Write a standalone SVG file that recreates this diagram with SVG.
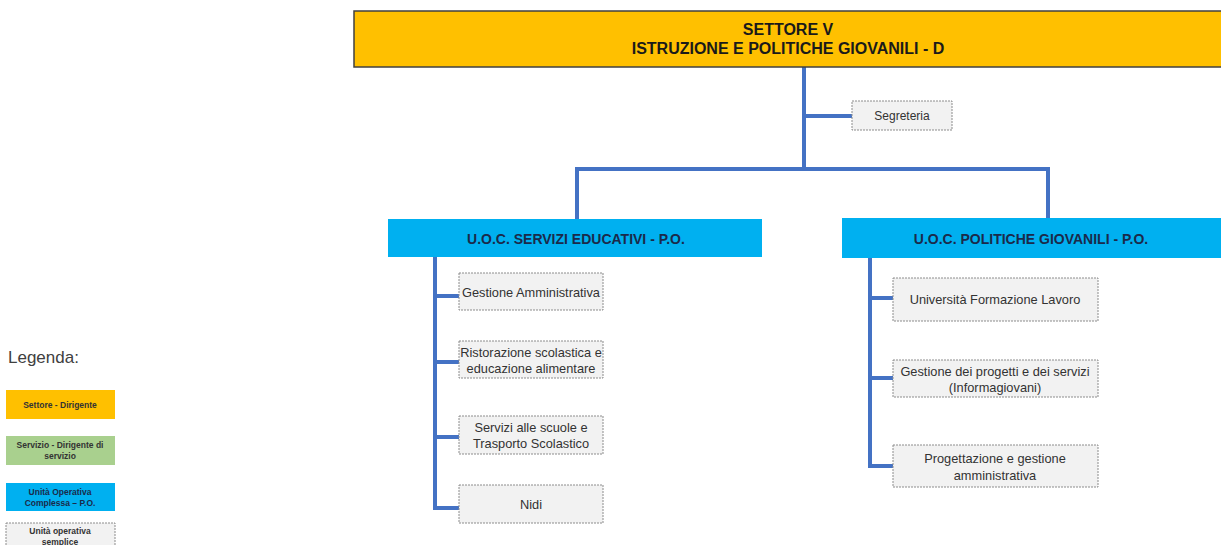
<svg xmlns="http://www.w3.org/2000/svg" width="1221" height="545" viewBox="0 0 1221 545">
<style>
  text { font-family: "Liberation Sans", Arial, sans-serif; text-anchor: middle; dominant-baseline: central; }
  .top { fill: #FFC000; stroke: #404040; stroke-width: 1.5; }
  .uoc { fill: #00B0F0; }
  .box { fill: #F2F2F2; stroke: #8C8C8C; stroke-width: 1; stroke-dasharray: 2 1; }
  .t-top { font-size: 16px; font-weight: bold; fill: #1A1A1A; }
  .t-uoc { font-size: 14px; font-weight: bold; fill: #1B2A4A; }
  .t-box { font-size: 12.8px; fill: #333333; }
  .t-small { font-size: 12px; fill: #333333; }
  .conn { fill: none; stroke: #4472C4; stroke-width: 4; stroke-linejoin: miter; }
  .lg { font-size: 8.5px; font-weight: bold; fill: #333333; }
</style>

<g id="connectors">
  <path class="conn" d="M804 67 V169"/>
  <path class="conn" d="M804 116 H852"/>
  <path class="conn" d="M577 219 V169 H1048 V218"/>
  <path class="conn" d="M435 257 V508 H459"/>
  <path class="conn" d="M435 296 H459 M435 362 H459 M435 437 H459"/>
  <path class="conn" d="M870 258 V466 H893"/>
  <path class="conn" d="M870 298 H893 M870 378 H893"/>
</g>

<g id="settore">
  <rect class="top" x="354" y="11" width="868" height="56"/>
  <text class="t-top" x="788" y="29">SETTORE V</text>
  <text class="t-top" x="788" y="48">ISTRUZIONE E POLITICHE GIOVANILI - D</text>
</g>

<g id="segreteria">
  <rect class="box" x="852" y="101" width="100" height="29"/>
  <text class="t-small" x="902" y="116">Segreteria</text>
</g>

<g id="uoc-educativi">
  <rect class="uoc" x="388" y="219" width="374" height="38"/>
  <text class="t-uoc" x="576" y="239">U.O.C. SERVIZI EDUCATIVI - P.O.</text>
</g>

<g id="uoc-giovanili">
  <rect class="uoc" x="842" y="218" width="380" height="40"/>
  <text class="t-uoc" x="1031" y="239">U.O.C. POLITICHE GIOVANILI - P.O.</text>
</g>

<g id="gestione-amministrativa">
  <rect class="box" x="459" y="273" width="144" height="37"/>
  <text class="t-box" x="531" y="292">Gestione Amministrativa</text>
</g>

<g id="ristorazione">
  <rect class="box" x="459" y="341" width="144" height="37"/>
  <text class="t-box" x="531" y="352">Ristorazione scolastica e</text>
  <text class="t-box" x="531" y="368">educazione alimentare</text>
</g>

<g id="servizi-scuole">
  <rect class="box" x="459" y="416" width="144" height="38"/>
  <text class="t-box" x="531" y="427">Servizi alle scuole e</text>
  <text class="t-box" x="531" y="443">Trasporto Scolastico</text>
</g>

<g id="nidi">
  <rect class="box" x="459" y="485" width="144" height="38"/>
  <text class="t-box" x="531" y="504">Nidi</text>
</g>

<g id="universita">
  <rect class="box" x="893" y="278" width="205" height="43"/>
  <text class="t-box" x="995" y="299">Università Formazione Lavoro</text>
</g>

<g id="gestione-progetti">
  <rect class="box" x="893" y="360" width="205" height="37"/>
  <text class="t-box" x="995" y="371">Gestione dei progetti e dei servizi</text>
  <text class="t-box" x="995" y="387">(Informagiovani)</text>
</g>

<g id="progettazione">
  <rect class="box" x="893" y="445" width="205" height="42"/>
  <text class="t-box" x="995" y="458">Progettazione e gestione</text>
  <text class="t-box" x="995" y="475">amministrativa</text>
</g>

<g id="legenda">
  <text x="8" y="357" style="font-size:17px; fill:#404040; text-anchor:start;">Legenda:</text>
  <rect x="6" y="390" width="109" height="29" fill="#FFC000"/>
  <text class="lg" x="60" y="405">Settore - Dirigente</text>
  <rect x="6" y="436" width="109" height="29" fill="#A9D08E"/>
  <text class="lg" x="60" y="445">Servizio - Dirigente di</text>
  <text class="lg" x="60" y="456">servizio</text>
  <rect x="6" y="483" width="109" height="28" fill="#00B0F0"/>
  <text class="lg" x="60" y="492" style="fill:#1B2A4A">Unità Operativa</text>
  <text class="lg" x="60" y="503" style="fill:#1B2A4A">Complessa – P.O.</text>
  <rect class="box" x="6" y="523" width="109" height="28"/>
  <text class="lg" x="60" y="531">Unità operativa</text>
  <text class="lg" x="60" y="542">semplice</text>
</g>
</svg>
